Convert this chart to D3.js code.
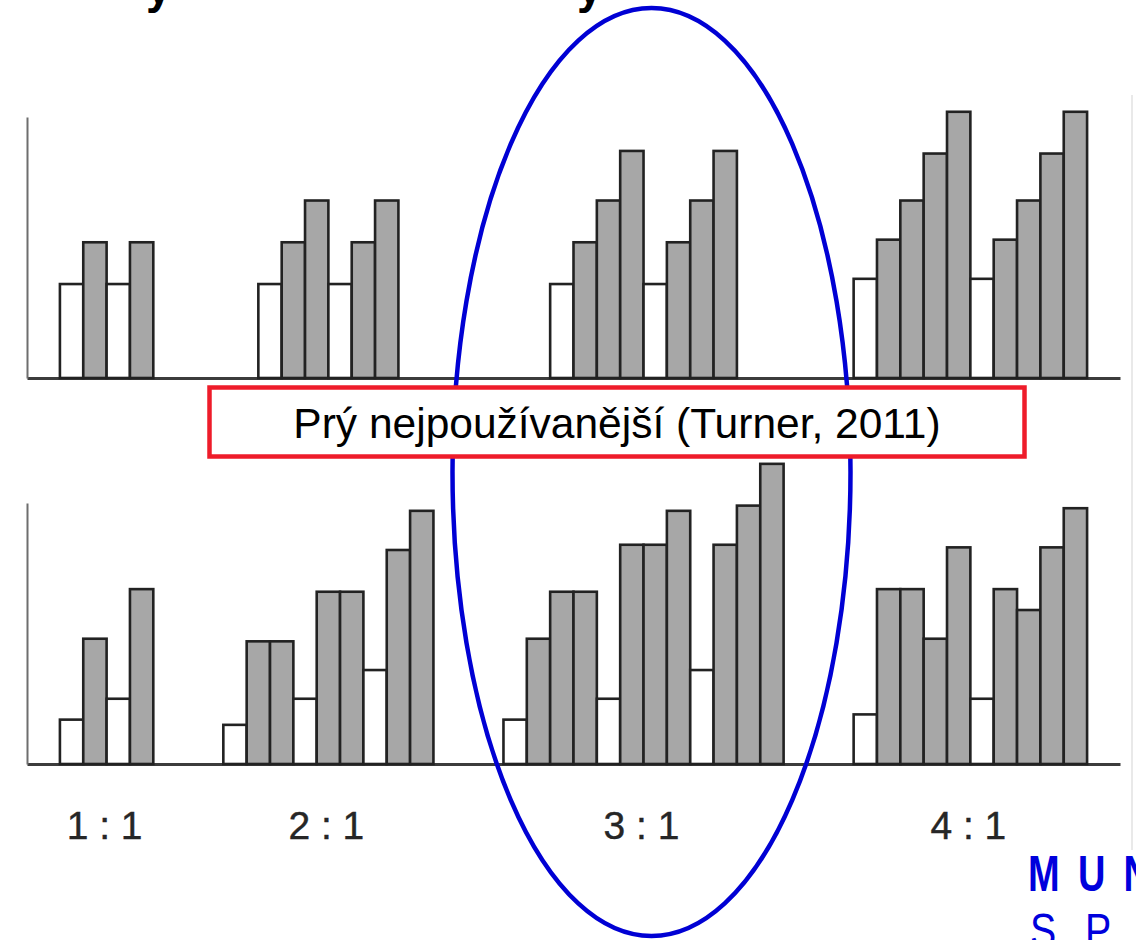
<!DOCTYPE html>
<html>
<head>
<meta charset="utf-8">
<script src="https://cdn.jsdelivr.net/npm/d3@7"></script>
<style>
  html, body { margin: 0; padding: 0; background: #fff; overflow: hidden; }
  svg { display: block; }
</style>
</head>
<body>
<svg id="chart" width="1136" height="940"></svg>
<script>
// ---- data ----
const groupLabels = ["1 : 1", "2 : 1", "3 : 1", "4 : 1"];
// each block: first value = white (reference) bar, rest = grey bars
const topBlocks = [
  [[3.6, 5.2], [3.6, 5.2]],
  [[3.6, 5.2, 6.8], [3.6, 5.2, 6.8]],
  [[3.6, 5.2, 6.8, 8.7], [3.6, 5.2, 6.8, 8.7]],
  [[3.8, 5.3, 6.8, 8.6, 10.2], [3.8, 5.3, 6.8, 8.6, 10.2]]
];
const bottomBlocks = [
  [[1.7, 4.8], [2.5, 6.7]],
  [[1.5, 4.7, 4.7], [2.5, 6.6, 6.6], [3.6, 8.2, 9.7]],
  [[1.7, 4.8, 6.6, 6.6], [2.5, 8.4, 8.4, 9.7], [3.6, 8.4, 9.9, 11.5]],
  [[1.9, 6.7, 6.7, 4.8, 8.3], [2.5, 6.7, 5.9, 8.3, 9.8]]
];
const boxText = "Prý nejpoužívanější (Turner, 2011)";
const logoTop = "MUNI";
const logoBottom = "SPORT";

// ---- layout ----
const svg = d3.select("#chart");
const gapSlots = 3;
const padSlots = 1.41;
const counts = b => b.reduce((s, blk) => s + blk.length, 0);
const maxW = groupLabels.map((_, i) => Math.max(counts(topBlocks[i]), counts(bottomBlocks[i])));
const starts = [];
let acc = 0;
maxW.forEach((w, i) => { starts.push(acc); acc += w + (i < maxW.length - 1 ? gapSlots : 0); });
const totalSlots = acc;

const x = d3.scaleLinear().domain([-padSlots, totalSlots + padSlots]).range([27, 1120]);
const yTop = d3.scaleLinear().domain([0, 10]).range([378, 117]);
const yBot = d3.scaleLinear().domain([0, 10]).range([764, 503]);

function flatten(blocks) {
  const bars = [];
  blocks.forEach((grp, gi) => {
    const n = counts(grp);
    let s = starts[gi] + (maxW[gi] - n) / 2;
    grp.forEach(blk => blk.forEach((v, k) => {
      bars.push({ slot: s, value: v, white: k === 0 });
      s += 1;
    }));
  });
  return bars;
}

function panel(blocks, y) {
  const g = svg.append("g");
  const ax = g.append("g").attr("transform", `translate(0,${y(0)})`)
    .call(d3.axisBottom(x).tickValues([]).tickSizeOuter(0));
  ax.select(".domain").attr("stroke", "#3c3c3c").attr("stroke-width", 3);
  const ay = g.append("g").attr("transform", `translate(${x(-padSlots)},0)`)
    .call(d3.axisLeft(y).tickValues([]).tickSizeOuter(0));
  ay.select(".domain").attr("stroke", "#6e6e6e").attr("stroke-width", 2);

  g.selectAll("rect.bar").data(flatten(blocks)).join("rect")
    .attr("class", "bar")
    .attr("x", d => x(d.slot))
    .attr("width", d => x(d.slot + 1) - x(d.slot))
    .attr("y", d => y(d.value))
    .attr("height", d => y(0) - y(d.value))
    .attr("fill", d => d.white ? "#ffffff" : "#a7a7a7")
    .attr("stroke", "#222")
    .attr("stroke-width", 2.6);
}

// faint frame edge at right
svg.append("line").attr("x1", 1132).attr("x2", 1132).attr("y1", 95).attr("y2", 850)
  .attr("stroke", "#e2e2e2").attr("stroke-width", 1.5);

panel(topBlocks, yTop);
panel(bottomBlocks, yBot);

// group labels
svg.selectAll("text.glabel").data(groupLabels).join("text")
  .attr("class", "glabel")
  .attr("x", (d, i) => x(starts[i] + maxW[i] / 2) - 2)
  .attr("y", 839)
  .attr("text-anchor", "middle")
  .attr("font-family", "'Liberation Sans', Arial, Helvetica, sans-serif")
  .attr("font-size", 39)
  .attr("fill", "#262626")
  .attr("stroke", "#262626").attr("stroke-width", 0.4)
  .text(d => d);

// cropped title descenders
["y", "y"].forEach((t, i) => {
  svg.append("text").attr("x", i === 0 ? 146 : 577).attr("y", 3)
    .attr("font-family", "'Liberation Sans', Arial, sans-serif")
    .attr("font-weight", "bold").attr("font-size", 46).attr("fill", "#000").text(t);
});

// blue ellipse
svg.append("ellipse").attr("cx", 651.5).attr("cy", 472).attr("rx", 199).attr("ry", 464)
  .attr("fill", "none").attr("stroke", "#0000d4").attr("stroke-width", 4.5);

// red box with note
svg.append("rect").attr("x", 209.5).attr("y", 387.5).attr("width", 815).attr("height", 69)
  .attr("fill", "#fff").attr("stroke", "#ee1c2a").attr("stroke-width", 4.5);
svg.append("text").attr("x", 617).attr("y", 438).attr("text-anchor", "middle")
  .attr("font-family", "'Liberation Sans', Arial, sans-serif")
  .attr("font-size", 42.5).attr("fill", "#000").text(boxText);

// logo (condensed)
svg.append("text").attr("transform", "translate(1028,891) scale(0.76,1)")
  .attr("font-family", "'Liberation Sans', Arial, sans-serif")
  .attr("font-weight", "bold").attr("font-size", 50).attr("letter-spacing", 24)
  .attr("fill", "#0000dc").text(logoTop);
svg.append("text").attr("transform", "translate(1030,947) scale(0.82,1)")
  .attr("font-family", "'Liberation Sans', Arial, sans-serif")
  .attr("font-weight", 300).attr("font-size", 48).attr("letter-spacing", 35)
  .attr("fill", "#0000dc").text(logoBottom);
</script>
</body>
</html>
